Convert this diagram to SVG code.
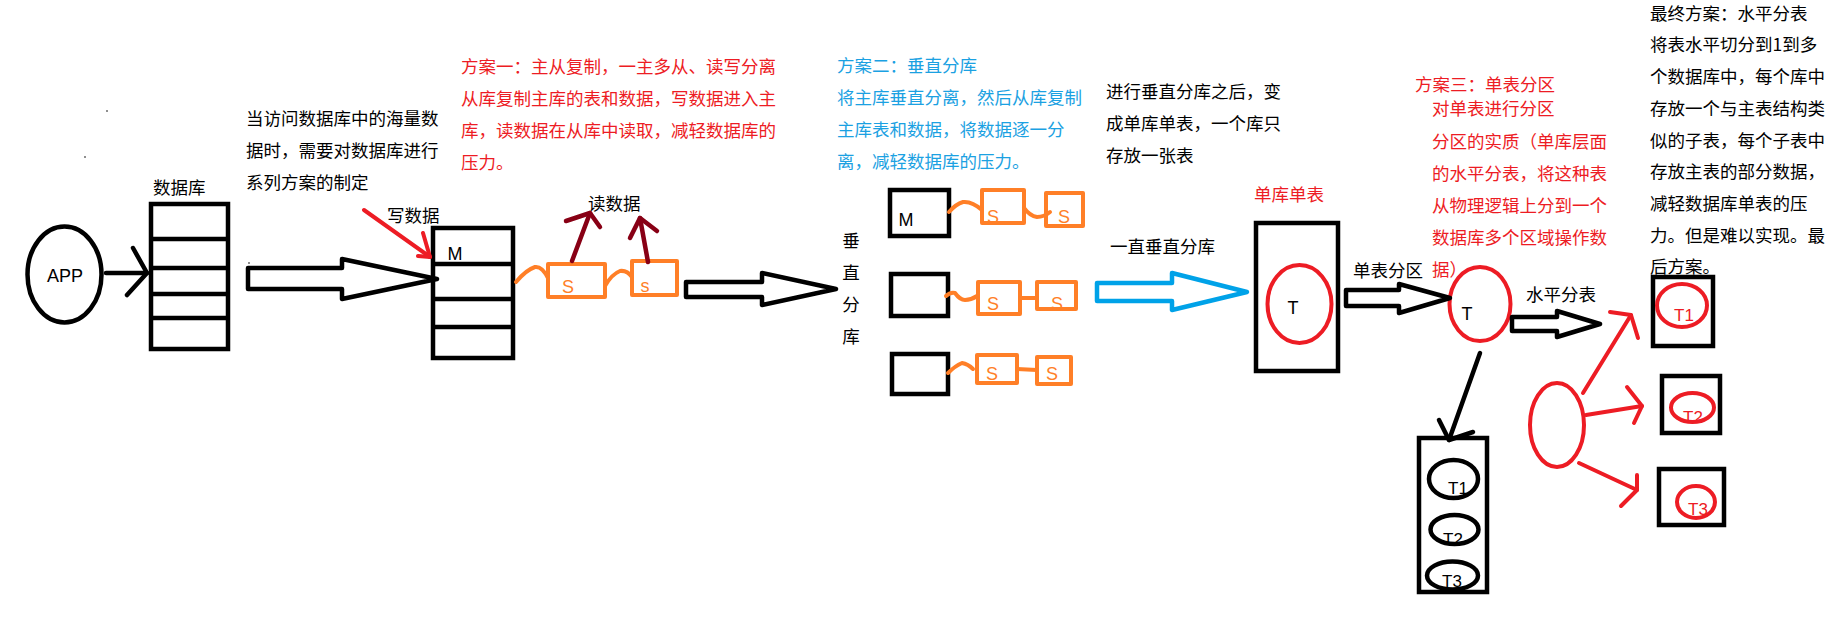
<svg xmlns="http://www.w3.org/2000/svg" width="1847" height="626" viewBox="0 0 1847 626">
<style>
.cn{font-family:"Noto Sans CJK SC","Noto Sans",sans-serif;font-size:17.5px}
.k{fill:#000}
.r{fill:#ED1C24}
.b{fill:#1BA1E2}
.lt{font-family:"Liberation Sans","DejaVu Sans",sans-serif}
.bk{fill:none;stroke:#000;stroke-width:4.5}
.og{fill:none;stroke:#FF7F27;stroke-width:4;stroke-linecap:round;stroke-linejoin:round}
.rd{fill:none;stroke:#ED1C24;stroke-width:4;stroke-linecap:round;stroke-linejoin:round}
.dr{fill:none;stroke:#880015;stroke-width:4.5;stroke-linecap:round;stroke-linejoin:round}
.ln{fill:none;stroke:#000;stroke-width:4.5;stroke-linecap:round;stroke-linejoin:round}
.ha{fill:#fff;stroke:#000;stroke-width:4.5;stroke-linejoin:round}
.ot{font-family:"Liberation Sans",sans-serif;font-size:18px;fill:#FF7F27}
</style>
<rect width="1847" height="626" fill="#fff"/>

<!-- stray dots -->
<circle cx="107" cy="111" r="0.8" fill="#000"/>
<circle cx="85" cy="157" r="0.8" fill="#000"/>
<circle cx="249" cy="263" r="0.8" fill="#000"/>

<!-- texts -->
<g id="intro-text" class="cn k">
<text x="246" y="125">当访问数据库中的海量数</text>
<text x="246" y="157">据时，需要对数据库进行</text>
<text x="246" y="189">系列方案的制定</text>
</g>
<g id="plan1-text" class="cn r">
<text x="461" y="73">方案一：主从复制，一主多从、读写分离</text>
<text x="461" y="105">从库复制主库的表和数据，写数据进入主</text>
<text x="461" y="137">库，读数据在从库中读取，减轻数据库的</text>
<text x="461" y="169">压力。</text>
</g>
<g id="plan2-text" class="cn b">
<text x="837" y="72">方案二：垂直分库</text>
<text x="837" y="104">将主库垂直分离，然后从库复制</text>
<text x="837" y="136">主库表和数据，将数据逐一分</text>
<text x="837" y="168">离，减轻数据库的压力。</text>
</g>
<g id="after-vertical-text" class="cn k">
<text x="1106" y="98">进行垂直分库之后，变</text>
<text x="1106" y="130">成单库单表，一个库只</text>
<text x="1106" y="162">存放一张表</text>
</g>
<g id="plan3-text" class="cn r">
<text x="1415" y="91">方案三：单表分区</text>
<text x="1432" y="115">对单表进行分区</text>
<text x="1432" y="148">分区的实质（单库层面</text>
<text x="1432" y="180">的水平分表，将这种表</text>
<text x="1432" y="212">从物理逻辑上分到一个</text>
<text x="1432" y="244">数据库多个区域操作数</text>
<text x="1432" y="276">据）</text>
</g>
<g id="final-text" class="cn k">
<text x="1650" y="20">最终方案：水平分表</text>
<text x="1650" y="51">将表水平切分到1到多</text>
<text x="1650" y="83">个数据库中，每个库中</text>
<text x="1650" y="115">存放一个与主表结构类</text>
<text x="1650" y="147">似的子表，每个子表中</text>
<text x="1650" y="178">存放主表的部分数据，</text>
<text x="1650" y="210">减轻数据库单表的压</text>
<text x="1650" y="242">力。但是难以实现。最</text>
<text x="1650" y="273">后方案。</text>
</g>

<!-- APP -->
<g id="app">
<ellipse cx="64.5" cy="274.5" rx="37" ry="48" class="bk"/>
<text x="65" y="282" text-anchor="middle" class="lt" font-size="18" fill="#000">APP</text>
</g>

<!-- database -->
<g id="database">
<text x="153" y="194" class="cn k">数据库</text>
<rect x="151" y="204" width="77" height="145" class="bk"/>
<line x1="151" y1="239" x2="228" y2="239" class="bk"/>
<line x1="151" y1="268" x2="228" y2="268" class="bk"/>
<line x1="151" y1="294" x2="228" y2="294" class="bk"/>
<line x1="151" y1="318" x2="228" y2="318" class="bk"/>
</g>

<!-- master with slaves (plan 1) -->
<g id="master1">
<rect x="433" y="228" width="80" height="130" class="bk"/>
<line x1="433" y1="264" x2="513" y2="264" class="bk"/>
<line x1="433" y1="299" x2="513" y2="299" class="bk"/>
<line x1="433" y1="327" x2="513" y2="327" class="bk"/>
<text x="455" y="260" text-anchor="middle" class="lt" font-size="18" fill="#000">M</text>
</g>
<g id="slave1a">
<rect x="548" y="264" width="57" height="33" class="og"/>
<text x="568" y="293" text-anchor="middle" class="ot">S</text>
</g>
<g id="slave1b">
<rect x="632" y="261" width="45" height="34" class="og"/>
<text x="645" y="292" text-anchor="middle" class="ot">s</text>
</g>
<text id="write-label" x="387" y="222" class="cn k">写数据</text>
<text id="read-label" x="588" y="210" class="cn k">读数据</text>

<!-- vertical split -->
<g id="vsplit-label" class="cn k" text-anchor="middle">
<text x="851" y="247">垂</text>
<text x="851" y="279">直</text>
<text x="851" y="311">分</text>
<text x="851" y="343">库</text>
</g>
<g id="vbox1">
<rect x="890" y="190" width="59" height="46" class="bk"/>
<text x="906" y="226" text-anchor="middle" class="lt" font-size="18" fill="#000">M</text>
</g>
<g id="vs1a"><rect x="982" y="190" width="42" height="33" class="og"/><text x="993" y="223" text-anchor="middle" class="ot">S</text></g>
<g id="vs1b"><rect x="1046" y="193" width="37" height="33" class="og"/><text x="1064" y="223" text-anchor="middle" class="ot">S</text></g>
<g id="vbox2"><rect x="891" y="274" width="57" height="42" class="bk"/></g>
<g id="vs2a"><rect x="978" y="282" width="42" height="32" class="og"/><text x="993" y="310" text-anchor="middle" class="ot">S</text></g>
<g id="vs2b"><rect x="1037" y="282" width="39" height="27" class="og"/><text x="1057" y="310" text-anchor="middle" class="ot">S</text></g>
<g id="vbox3"><rect x="892" y="354" width="56" height="40" class="bk"/></g>
<g id="vs3a"><rect x="977" y="355" width="40" height="28" class="og"/><text x="992" y="380" text-anchor="middle" class="ot">S</text></g>
<g id="vs3b"><rect x="1037" y="357" width="34" height="27" class="og"/><text x="1052" y="380" text-anchor="middle" class="ot">S</text></g>

<text id="keep-vsplit-label" x="1110" y="253" class="cn k">一直垂直分库</text>

<!-- single db single table -->
<text id="single-label" x="1254" y="201" class="cn r">单库单表</text>
<g id="single-db">
<rect x="1256" y="223" width="82" height="148" class="bk"/>
<ellipse cx="1299.5" cy="304" rx="32" ry="39" class="rd"/>
<text x="1293" y="314" text-anchor="middle" class="lt" font-size="18" fill="#000">T</text>
</g>
<text id="partition-label" x="1353" y="277" class="cn k">单表分区</text>
<g id="table-t">
<ellipse cx="1480" cy="304" rx="30.5" ry="37" class="rd"/>
<text x="1467" y="320" text-anchor="middle" class="lt" font-size="18" fill="#000">T</text>
</g>
<text id="hsplit-label" x="1526" y="301" class="cn k">水平分表</text>

<g id="partitions">
<rect x="1419" y="438" width="68" height="154" class="bk"/>
<ellipse cx="1453.5" cy="479" rx="24.5" ry="19" class="bk"/>
<text x="1458" y="494" text-anchor="middle" class="lt" font-size="17" fill="#000">T1</text>
<ellipse cx="1454.5" cy="529.5" rx="24" ry="14.5" class="bk"/>
<text x="1453" y="545" text-anchor="middle" class="lt" font-size="17" fill="#000">T2</text>
<ellipse cx="1452.5" cy="575.5" rx="25.5" ry="14" class="bk"/>
<text x="1452" y="587" text-anchor="middle" class="lt" font-size="17" fill="#000">T3</text>
</g>

<g id="hsource"><ellipse cx="1557" cy="425" rx="27" ry="42" class="rd"/></g>
<g id="h1">
<rect x="1653" y="277" width="60" height="69" class="bk"/>
<ellipse cx="1682" cy="305.5" rx="25" ry="21.5" class="rd"/>
<text x="1684" y="321" text-anchor="middle" class="lt" font-size="17" fill="#ED1C24">T1</text>
</g>
<g id="h2">
<rect x="1662" y="376" width="58" height="57" class="bk"/>
<ellipse cx="1692.5" cy="407.5" rx="21.5" ry="14.5" class="rd"/>
<text x="1693" y="423" text-anchor="middle" class="lt" font-size="17" fill="#ED1C24">T2</text>
</g>
<g id="h3">
<rect x="1659" y="469" width="65" height="56" class="bk"/>
<ellipse cx="1696" cy="502" rx="19" ry="16" class="rd"/>
<text x="1698" y="515" text-anchor="middle" class="lt" font-size="17" fill="#ED1C24">T3</text>
</g>

<!-- connectors -->
<g id="connectors">
<polyline points="106,273 147,273" class="ln"/>
<polyline points="133,248 147,273 127,295" class="ln"/>
<polygon points="248,268 342,268 342,259 437,279 342,299 342,289 248,289" class="ha"/>
<polyline points="364,210 430,257" class="rd"/>
<polyline points="423,233 430,257 418,256" class="rd"/>
<path d="M516,282 Q526,270 535,267 Q542,266 548,278" class="og"/>
<path d="M605,286 Q612,274 620,271 Q627,270 632,277" class="og"/>
<polyline points="572,261 590,213" class="dr"/>
<polyline points="566,221 590,213 600,227" class="dr"/>
<polyline points="648,262 640,218" class="dr"/>
<polyline points="630,238 640,218 657,231" class="dr"/>
<polygon points="686,282 762,282 762,273 836,289 762,305 762,297 686,297" class="ha"/>
<path d="M949,212 Q956,204 963,202 Q972,201 982,210" class="og"/>
<path d="M1024,208 Q1030,216 1037,217 Q1044,217 1050,212" class="og"/>
<path d="M946,296 Q950,292 955,293 Q960,300 965,300 Q971,300 977,296" class="og"/>
<line x1="1020" y1="298" x2="1037" y2="298" class="og"/>
<path d="M948,373 Q955,366 962,363 Q968,364 973,369" class="og"/>
<line x1="1017" y1="369" x2="1037" y2="370" class="og"/>
<polygon points="1097,283 1172,283 1172,273 1247,292 1172,310 1172,301 1097,301" fill="#fff" stroke="#00A2E8" stroke-width="4.5" stroke-linejoin="round"/>
<polygon points="1346,290 1399,290 1399,284 1450,298 1399,313 1399,306 1346,306" class="ha"/>
<polygon points="1512,317 1557,317 1557,311 1600,324 1557,337 1557,331 1512,331" class="ha"/>
<polyline points="1480,353 1449,440" class="ln"/>
<polyline points="1439,420 1449,440 1473,432" class="ln"/>
<polyline points="1583,393 1631,315" class="rd"/>
<polyline points="1610,312 1631,315 1638,338" class="rd"/>
<polyline points="1586,415 1642,406" class="rd"/>
<polyline points="1627,387 1642,406 1634,423" class="rd"/>
<polyline points="1579,463 1637,490" class="rd"/>
<polyline points="1637,475 1637,490 1621,506" class="rd"/>
</g>
</svg>
